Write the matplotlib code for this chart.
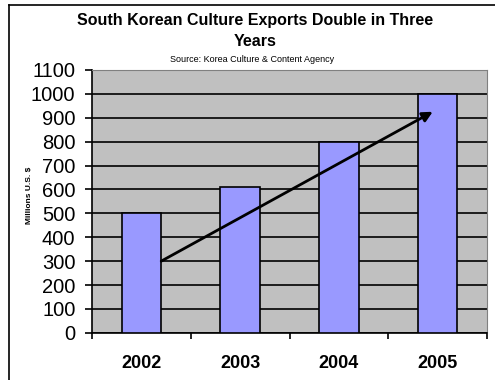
import matplotlib.pyplot as plt
from matplotlib.lines import Line2D

years = ['2002', '2003', '2004', '2005']
exports = [500, 610, 800, 1000]
arrow_start = (0.2, 300)
arrow_end = (2.95, 925)
y_ticks = list(range(0, 1101, 100))

plt.rcParams['font.family'] = ['Liberation Sans', 'DejaVu Sans']

fig = plt.figure(figsize=(4.95, 3.8), dpi=100)
ax = fig.add_axes([0.186, 0.124, 0.798, 0.692])

# outer frame (left and top only visible)
fig.add_artist(Line2D([9/495, 9/495], [0, 1 - 5/380], color='black', lw=1.2))
fig.add_artist(Line2D([9/495, 1], [1 - 5/380, 1 - 5/380], color='black', lw=1.2))

ax.set_facecolor('#c0c0c0')
ax.bar(range(len(years)), exports, width=0.4, color='#9999ff',
       edgecolor='black', linewidth=1.2, zorder=3)

ax.set_ylim(0, 1100)
ax.set_xlim(-0.5, 3.5)
ax.set_yticks(y_ticks)
ax.set_yticklabels([str(v) for v in y_ticks], fontsize=14.5)
ax.yaxis.grid(True, color='black', linewidth=1.2, zorder=0)
ax.set_axisbelow(True)
ax.tick_params(axis='y', length=5, width=1.2, pad=7)

ax.set_xticks(range(len(years)))
ax.set_xticklabels(years, fontsize=13, fontweight='bold')
ax.set_xticks([-0.5, 0.5, 1.5, 2.5, 3.5], minor=True)
ax.tick_params(axis='x', which='major', length=0, pad=16)
ax.tick_params(axis='x', which='minor', length=4, width=1.2)

for s in ['top', 'right']:
    ax.spines[s].set_color('#808080')
for s in ['left', 'bottom']:
    ax.spines[s].set_linewidth(1.2)

ax.annotate('', xy=arrow_end, xytext=arrow_start,
            arrowprops=dict(arrowstyle='-|>', color='black', lw=2,
                            mutation_scale=15, shrinkA=0, shrinkB=0),
            zorder=5)

fig.text(0.515, 1 - 20/380, 'South Korean Culture Exports Double in Three',
         ha='center', va='center', fontsize=11.5, fontweight='bold')
fig.text(0.515, 1 - 41/380, 'Years', ha='center', va='center',
         fontsize=11.5, fontweight='bold')
fig.text(0.51, 1 - 60/380, 'Source: Korea Culture & Content Agency',
         ha='center', va='center', fontsize=6.5)
fig.text(30/495, 1 - 195/380, 'Millions U.S. $', rotation=90,
         ha='center', va='center', fontsize=6, fontweight='bold')

plt.savefig('out.png', dpi=100)
